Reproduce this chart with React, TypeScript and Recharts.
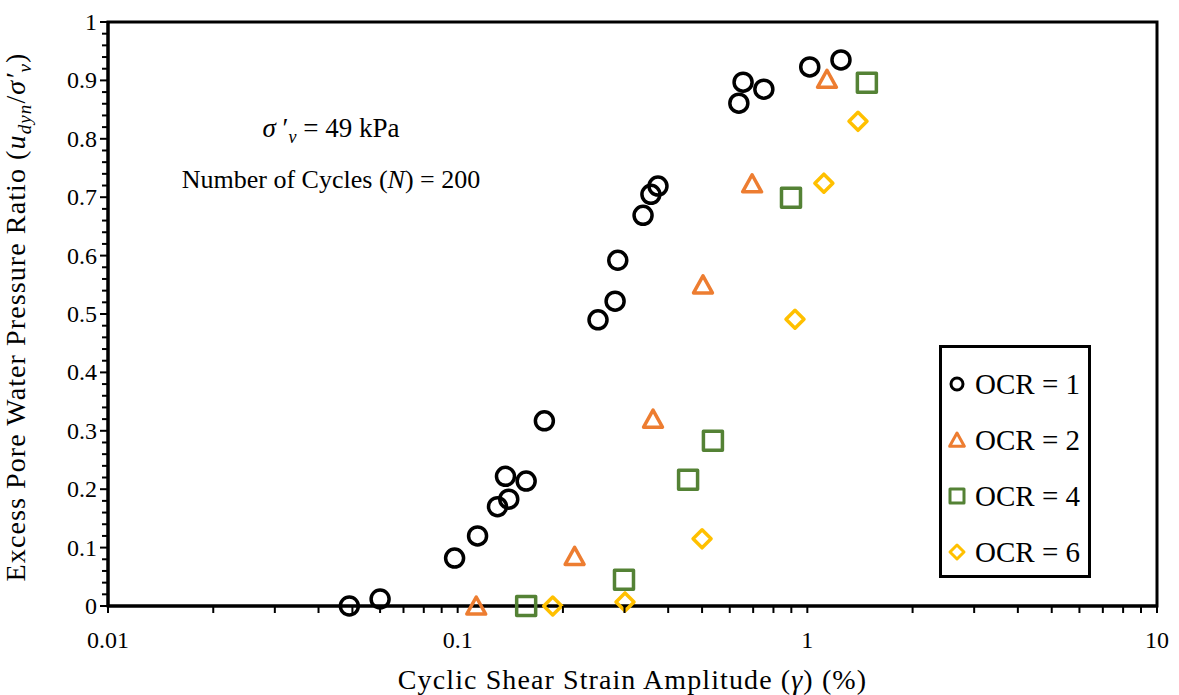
import React from 'react';
import { ScatterChart, Scatter, XAxis, YAxis, ReferenceArea, Legend } from 'recharts';

// strain amplitude (%) vs excess pore pressure ratio, one pair of arrays per OCR
const ocr1Strain = [0.049, 0.060, 0.098, 0.114, 0.130, 0.140, 0.137, 0.157, 0.177, 0.252, 0.282, 0.287, 0.339, 0.357, 0.374, 0.637, 0.655, 0.751, 1.016, 1.248];
const ocr1Ratio = [0.0, 0.012, 0.082, 0.12, 0.17, 0.183, 0.222, 0.214, 0.317, 0.49, 0.522, 0.592, 0.669, 0.705, 0.719, 0.861, 0.897, 0.885, 0.923, 0.935];

const ocr2Strain = [0.113, 0.216, 0.362, 0.503, 0.695, 1.138];
const ocr2Ratio = [0.0, 0.085, 0.32, 0.55, 0.723, 0.902];

const ocr4Strain = [0.157, 0.299, 0.456, 0.537, 0.898, 1.48];
const ocr4Ratio = [0.0, 0.045, 0.216, 0.283, 0.699, 0.896];

const ocr6Strain = [0.187, 0.301, 0.5, 0.922, 1.115, 1.396];
const ocr6Ratio = [0.0, 0.007, 0.115, 0.491, 0.724, 0.83];

const xMajorTicks = [0.01, 0.1, 1, 10];
const xMinorTicks = [
  0.02, 0.03, 0.04, 0.05, 0.06, 0.07, 0.08, 0.09,
  0.2, 0.3, 0.4, 0.5, 0.6, 0.7, 0.8, 0.9,
  2, 3, 4, 5, 6, 7, 8, 9,
];
const yMajorTicks = [0, 0.1, 0.2, 0.3, 0.4, 0.5, 0.6, 0.7, 0.8, 0.9, 1];
const yMinorTicks = yMajorTicks.slice(0, -1).flatMap((t) => [0.02, 0.04, 0.06, 0.08].map((d) => +(t + d).toFixed(2)));

const FONT = '"Liberation Serif", serif';
const ORANGE = '#ED7D31';
const GREEN = '#548235';
const YELLOW = '#FFC000';

const toPoints = (xs: number[], ys: number[]) => xs.map((x, i) => ({ x, y: ys[i] }));

const CircleMark = ({ cx, cy, r = 9, sw = 3.5 }: any) => (
  <circle cx={cx} cy={cy} r={r} fill="none" stroke="#000" strokeWidth={sw} />
);
const TriangleMark = ({ cx, cy, h = 9, sw = 3.5 }: any) => (
  <polygon
    points={`${cx},${cy - h} ${cx + h * 1.05},${cy + h * 0.9} ${cx - h * 1.05},${cy + h * 0.9}`}
    fill="none"
    stroke={ORANGE}
    strokeWidth={sw}
    strokeLinejoin="round"
  />
);
const SquareMark = ({ cx, cy, h = 9.5, sw = 3.5 }: any) => (
  <rect x={cx - h} y={cy - h} width={h * 2} height={h * 2} fill="none" stroke={GREEN} strokeWidth={sw} strokeLinejoin="round" />
);
const DiamondMark = ({ cx, cy, h = 9, sw = 3.5 }: any) => (
  <polygon
    points={`${cx},${cy - h} ${cx + h},${cy} ${cx},${cy + h} ${cx - h},${cy}`}
    fill="none"
    stroke={YELLOW}
    strokeWidth={sw}
    strokeLinejoin="round"
  />
);

const series = [
  { name: 'OCR = 1', data: toPoints(ocr1Strain, ocr1Ratio), Mark: CircleMark, small: { r: 6, sw: 3 } },
  { name: 'OCR = 2', data: toPoints(ocr2Strain, ocr2Ratio), Mark: TriangleMark, small: { h: 7, sw: 3 } },
  { name: 'OCR = 4', data: toPoints(ocr4Strain, ocr4Ratio), Mark: SquareMark, small: { h: 7, sw: 3 } },
  { name: 'OCR = 6', data: toPoints(ocr6Strain, ocr6Ratio), Mark: DiamondMark, small: { h: 7, sw: 3 } },
];

const XTick = ({ x, y, payload }: any) => {
  const major = xMajorTicks.includes(payload.value);
  return (
    <g>
      <line x1={x} x2={x} y1={y} y2={y + 7} stroke="#000" strokeWidth={2} />
      {major && (
        <text x={x} y={y + 42} textAnchor="middle" fontFamily={FONT} fontSize={24} fill="#000">
          {payload.value}
        </text>
      )}
    </g>
  );
};

const YTick = ({ x, y, payload }: any) => {
  const major = yMajorTicks.includes(payload.value);
  return (
    <g>
      <line x1={x - (major ? 8 : 6)} x2={x} y1={y} y2={y} stroke="#000" strokeWidth={2} />
      {major && (
        <text x={x - 11} y={y + 8} textAnchor="end" fontFamily={FONT} fontSize={24} fill="#000">
          {payload.value}
        </text>
      )}
    </g>
  );
};

const XTitle = ({ viewBox }: any) => (
  <text
    x={viewBox.x + viewBox.width / 2}
    y={viewBox.y + 83}
    textAnchor="middle"
    fontFamily={FONT}
    fontSize={28}
    letterSpacing={1.1}
    fill="#000"
  >
    Cyclic Shear Strain Amplitude (<tspan fontStyle="italic">γ</tspan>) (%)
  </text>
);

const YTitle = ({ viewBox }: any) => {
  const cx = 25;
  const cy = viewBox.y + viewBox.height / 2 + 3;
  return (
    <text
      x={cx}
      y={cy}
      transform={`rotate(-90 ${cx} ${cy})`}
      textAnchor="middle"
      fontFamily={FONT}
      fontSize={28}
      letterSpacing={1.1}
      fill="#000"
    >
      Excess Pore Water Pressure Ratio (<tspan fontStyle="italic">u</tspan>
      <tspan fontStyle="italic" fontSize={19} dy={6}>dyn</tspan>
      <tspan dy={-6}>/</tspan>
      <tspan fontStyle="italic">σ′</tspan>
      <tspan fontStyle="italic" fontSize={19} dy={6}>v</tspan>
      <tspan dy={-6}>)</tspan>
    </text>
  );
};

const LegendBox = () => (
  <div
    style={{
      border: '3px solid #000',
      boxSizing: 'border-box',
      width: 152,
      height: 233,
      paddingTop: 8,
      background: '#fff',
    }}
  >
    {series.map((s) => (
      <div key={s.name} style={{ display: 'flex', alignItems: 'center', height: 56 }}>
        <svg width={24} height={24} style={{ marginLeft: 3, marginRight: 6 }}>
          <s.Mark cx={12} cy={12} {...s.small} />
        </svg>
        <span style={{ fontFamily: FONT, fontSize: 29, color: '#000', whiteSpace: 'nowrap' }}>{s.name}</span>
      </div>
    ))}
  </div>
);

export default function App() {
  return (
    <div style={{ position: 'absolute', left: 0, top: 0, width: 1179, height: 695, background: '#fff' }}>
      <ScatterChart width={1179} height={695} margin={{ top: 22, right: 22, left: 0, bottom: 0 }}>
        <XAxis
          type="number"
          dataKey="x"
          scale="log"
          domain={[0.01, 10]}
          ticks={[...xMajorTicks, ...xMinorTicks].sort((a, b) => a - b)}
          interval={0}
          tickSize={0}
          tickMargin={0}
          tickLine={false}
          tick={<XTick />}
          axisLine={{ stroke: '#000', strokeWidth: 3 }}
          height={89}
          label={<XTitle />}
        />
        <YAxis
          type="number"
          dataKey="y"
          domain={[0, 1]}
          ticks={[...yMajorTicks, ...yMinorTicks].sort((a, b) => a - b)}
          interval={0}
          tickSize={0}
          tickMargin={0}
          tickLine={false}
          tick={<YTick />}
          axisLine={{ stroke: '#000', strokeWidth: 3 }}
          width={108}
          label={<YTitle />}
        />
        <ReferenceArea x1={0.01} x2={10} y1={0} y2={1} fill="none" stroke="#000" strokeWidth={3} ifOverflow="visible" />
        {series.map((s) => (
          <Scatter
            key={s.name}
            name={s.name}
            data={s.data}
            isAnimationActive={false}
            shape={(p: any) => <s.Mark cx={p.cx} cy={p.cy} />}
          />
        ))}
        <Legend
          layout="vertical"
          align="center"
          verticalAlign="middle"
          content={() => <LegendBox />}
          wrapperStyle={{ left: 939, top: 345, width: 152, height: 233 }}
        />
      </ScatterChart>
      <div style={{ position: 'absolute', left: 131, top: 112, width: 400, textAlign: 'center', fontFamily: FONT, fontSize: 27, color: '#000', lineHeight: '32px' }}>
        <i>σ</i> ′<sub style={{ fontSize: 18, fontStyle: 'italic', verticalAlign: '-6px' }}>v</sub> = 49 kPa
      </div>
      <div style={{ position: 'absolute', left: 131, top: 164, width: 400, textAlign: 'center', fontFamily: FONT, fontSize: 26, color: '#000', lineHeight: '32px' }}>
        Number of Cycles (<i>N</i>) = 200
      </div>
    </div>
  );
}
